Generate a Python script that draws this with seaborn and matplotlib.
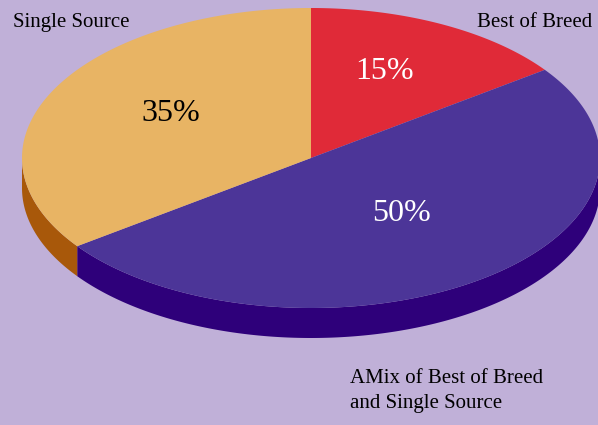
import numpy as np
import matplotlib
matplotlib.use("Agg")
import matplotlib.pyplot as plt
import seaborn as sns
from matplotlib.patches import Polygon

# data
labels = ["Best of Breed", "AMix of Best of Breed\nand Single Source", "Single Source"]
shares = [15, 50, 35]
top_colors = ["#e02a38", "#4c3598", "#e8b464"]
side_colors = ["#a01820", "#2e007a", "#a8580a"]
bg = "#c0b0d8"

sns.set_theme(style="white")
plt.rcParams["font.family"] = ["Liberation Serif", "DejaVu Serif"]

W, H = 598, 425
fig = plt.figure(figsize=(W / 100, H / 100), dpi=100, facecolor=bg)
ax = fig.add_axes([0, 0, 1, 1])
ax.set_facecolor(bg)

# pixel geometry of the tilted pie
cx, cy, rx, ry, depth = 311, 158, 289, 150, 30

def pt(theta_deg, dy=0):
    t = np.radians(theta_deg)
    return cx + rx * np.sin(t), cy - ry * np.cos(t) + dy

# slice angles, clockwise from 12 o'clock
bounds = np.concatenate([[0], np.cumsum(shares)]) / 100 * 360

# side walls (only the front half, 90..270 degrees)
for i in range(len(shares)):
    a0, a1 = max(bounds[i], 90), min(bounds[i + 1], 270)
    if a1 <= a0:
        continue
    th = np.linspace(a0, a1, 200)
    upper = [pt(t) for t in th]
    lower = [pt(t, depth) for t in th[::-1]]
    ax.add_patch(Polygon(upper + lower, closed=True, fc=side_colors[i], ec="none"))

# top faces
for i in range(len(shares)):
    th = np.linspace(bounds[i], bounds[i + 1], 300)
    verts = [(cx, cy)] + [pt(t) for t in th]
    ax.add_patch(Polygon(verts, closed=True, fc=top_colors[i], ec="none"))

# percentage labels
pct_pos = [(385, 71), (401, 213), (171, 113)]
pct_col = ["white", "white", "black"]
for (x, y), v, c in zip(pct_pos, shares, pct_col):
    ax.text(x, y, f"{v}%", color=c, fontsize=23, ha="center", va="center")

# category labels
ax.text(13, 22, labels[2], fontsize=15, ha="left", va="center", color="black")
ax.text(592, 22, labels[0], fontsize=15, ha="right", va="center", color="black")
ax.text(350, 391, labels[1], fontsize=15, ha="left", va="center", color="black",
        linespacing=1.45)

ax.set_xlim(0, W)
ax.set_ylim(H, 0)
ax.axis("off")
fig.savefig("out.png", dpi=100, facecolor=bg)
